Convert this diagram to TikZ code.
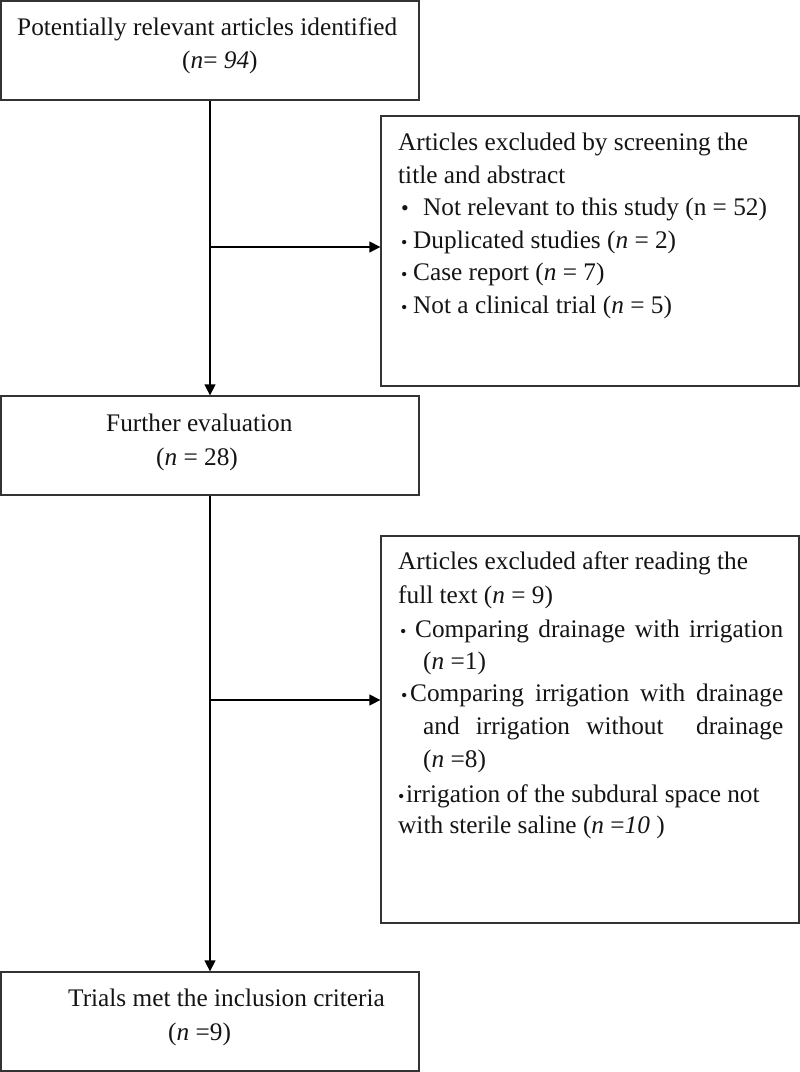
\documentclass[tikz,border=0pt]{standalone}
\usepackage{fontspec}
\setmainfont{Liberation Serif}
\usetikzlibrary{arrows.meta}
\definecolor{ln}{HTML}{333333}
\definecolor{tx}{HTML}{141414}
\begin{document}
\begin{tikzpicture}[x=1pt,y=-1pt,
  box/.style={draw=ln,line width=1.3pt,inner sep=0pt,fill=none},
  lbl/.style={anchor=base west,inner sep=0pt,text=tx,font=\fontsize{25.3}{31}\selectfont},
  bul/.style={anchor=base west,inner sep=0pt,text=tx,font=\fontsize{18}{20}\selectfont},
  conn/.style={draw=black,line width=1.3pt,-{Triangle[length=11pt,width=11pt]}}]
\useasboundingbox (0,0) rectangle (800,1072);
% boxes
\node[box,minimum width=418pt,minimum height=99pt] (b1) at (210,50.5) {};
\node[box,minimum width=418pt,minimum height=99pt] (b2) at (210,445.5) {};
\node[box,minimum width=418pt,minimum height=99pt] (b3) at (210,1021.5) {};
\node[box,minimum width=418pt,minimum height=270pt] (e1) at (590,251) {};
\node[box,minimum width=418pt,minimum height=387pt] (e2) at (590,729.5) {};
% box 1 text
\node[lbl] (t1a) at (17,35) {Potentially relevant articles identified};
\node[lbl] (t1b) at (182,68) {(\textit{n}= \textit{94})};
% box 2 text
\node[lbl] (t2a) at (106,431) {Further evaluation};
\node[lbl] (t2b) at (156,465) {(\textit{n} = 28)};
% box 3 text
\node[lbl] (t3a) at (68,1006) {Trials met the inclusion criteria};
\node[lbl] (t3b) at (168,1040) {(\textit{n} =9)};
% excluded 1
\node[lbl] (e1a) at (398,150) {Articles excluded by screening the};
\node[lbl] (e1b) at (398,183) {title and abstract};
\node[bul,font=\fontsize{22}{24}\selectfont] (e1cb) at (401,215) {•};
\node[lbl] (e1c) at (423,215) {Not relevant to this study (n = 52)};
\node[bul] (e1db) at (401,248) {•};
\node[lbl] (e1d) at (413,248) {Duplicated studies (\textit{n} = 2)};
\node[bul] (e1eb) at (401,280) {•};
\node[lbl] (e1e) at (413,280) {Case report (\textit{n} = 7)};
\node[bul] (e1fb) at (401,313) {•};
\node[lbl] (e1f) at (413,313) {Not a clinical trial (\textit{n} = 5)};
% excluded 2
\node[lbl] (e2a) at (398,569) {Articles excluded after reading the};
\node[lbl] (e2b) at (398,603) {full text (\textit{n} = 9)};
\node[bul] (e2cb) at (400,637) {•};
\node[lbl] (e2c) at (415,637) {\makebox[368pt][s]{Comparing drainage with irrigation}};
\node[lbl] (e2d) at (423,669) {(\textit{n} =1)};
\node[bul] (e2eb) at (401,701) {•};
\node[lbl] (e2e) at (410,701) {\makebox[373pt][s]{Comparing irrigation with drainage}};
\node[lbl] (e2f) at (423,734) {\makebox[360pt][s]{and irrigation without\ \ drainage}};
\node[lbl] (e2g) at (423,767) {(\textit{n} =8)};
\node[bul] (e2hb) at (398,802) {•};
\node[lbl] (e2h) at (406,802) {irrigation of the subdural space not};
\node[lbl] (e2i) at (398,833) {with sterile saline (\textit{n} =\textit{10} )};
% connectors
\coordinate (j1) at (210,247);
\coordinate (j2) at (210,700);
\draw[conn] (b1.south) -- (b2.north);
\draw[conn] (b2.south) -- (b3.north);
\draw[conn] (j1) -- (j1 -| e1.west);
\draw[conn] (j2) -- (j2 -| e2.west);
\end{tikzpicture}
\end{document}
